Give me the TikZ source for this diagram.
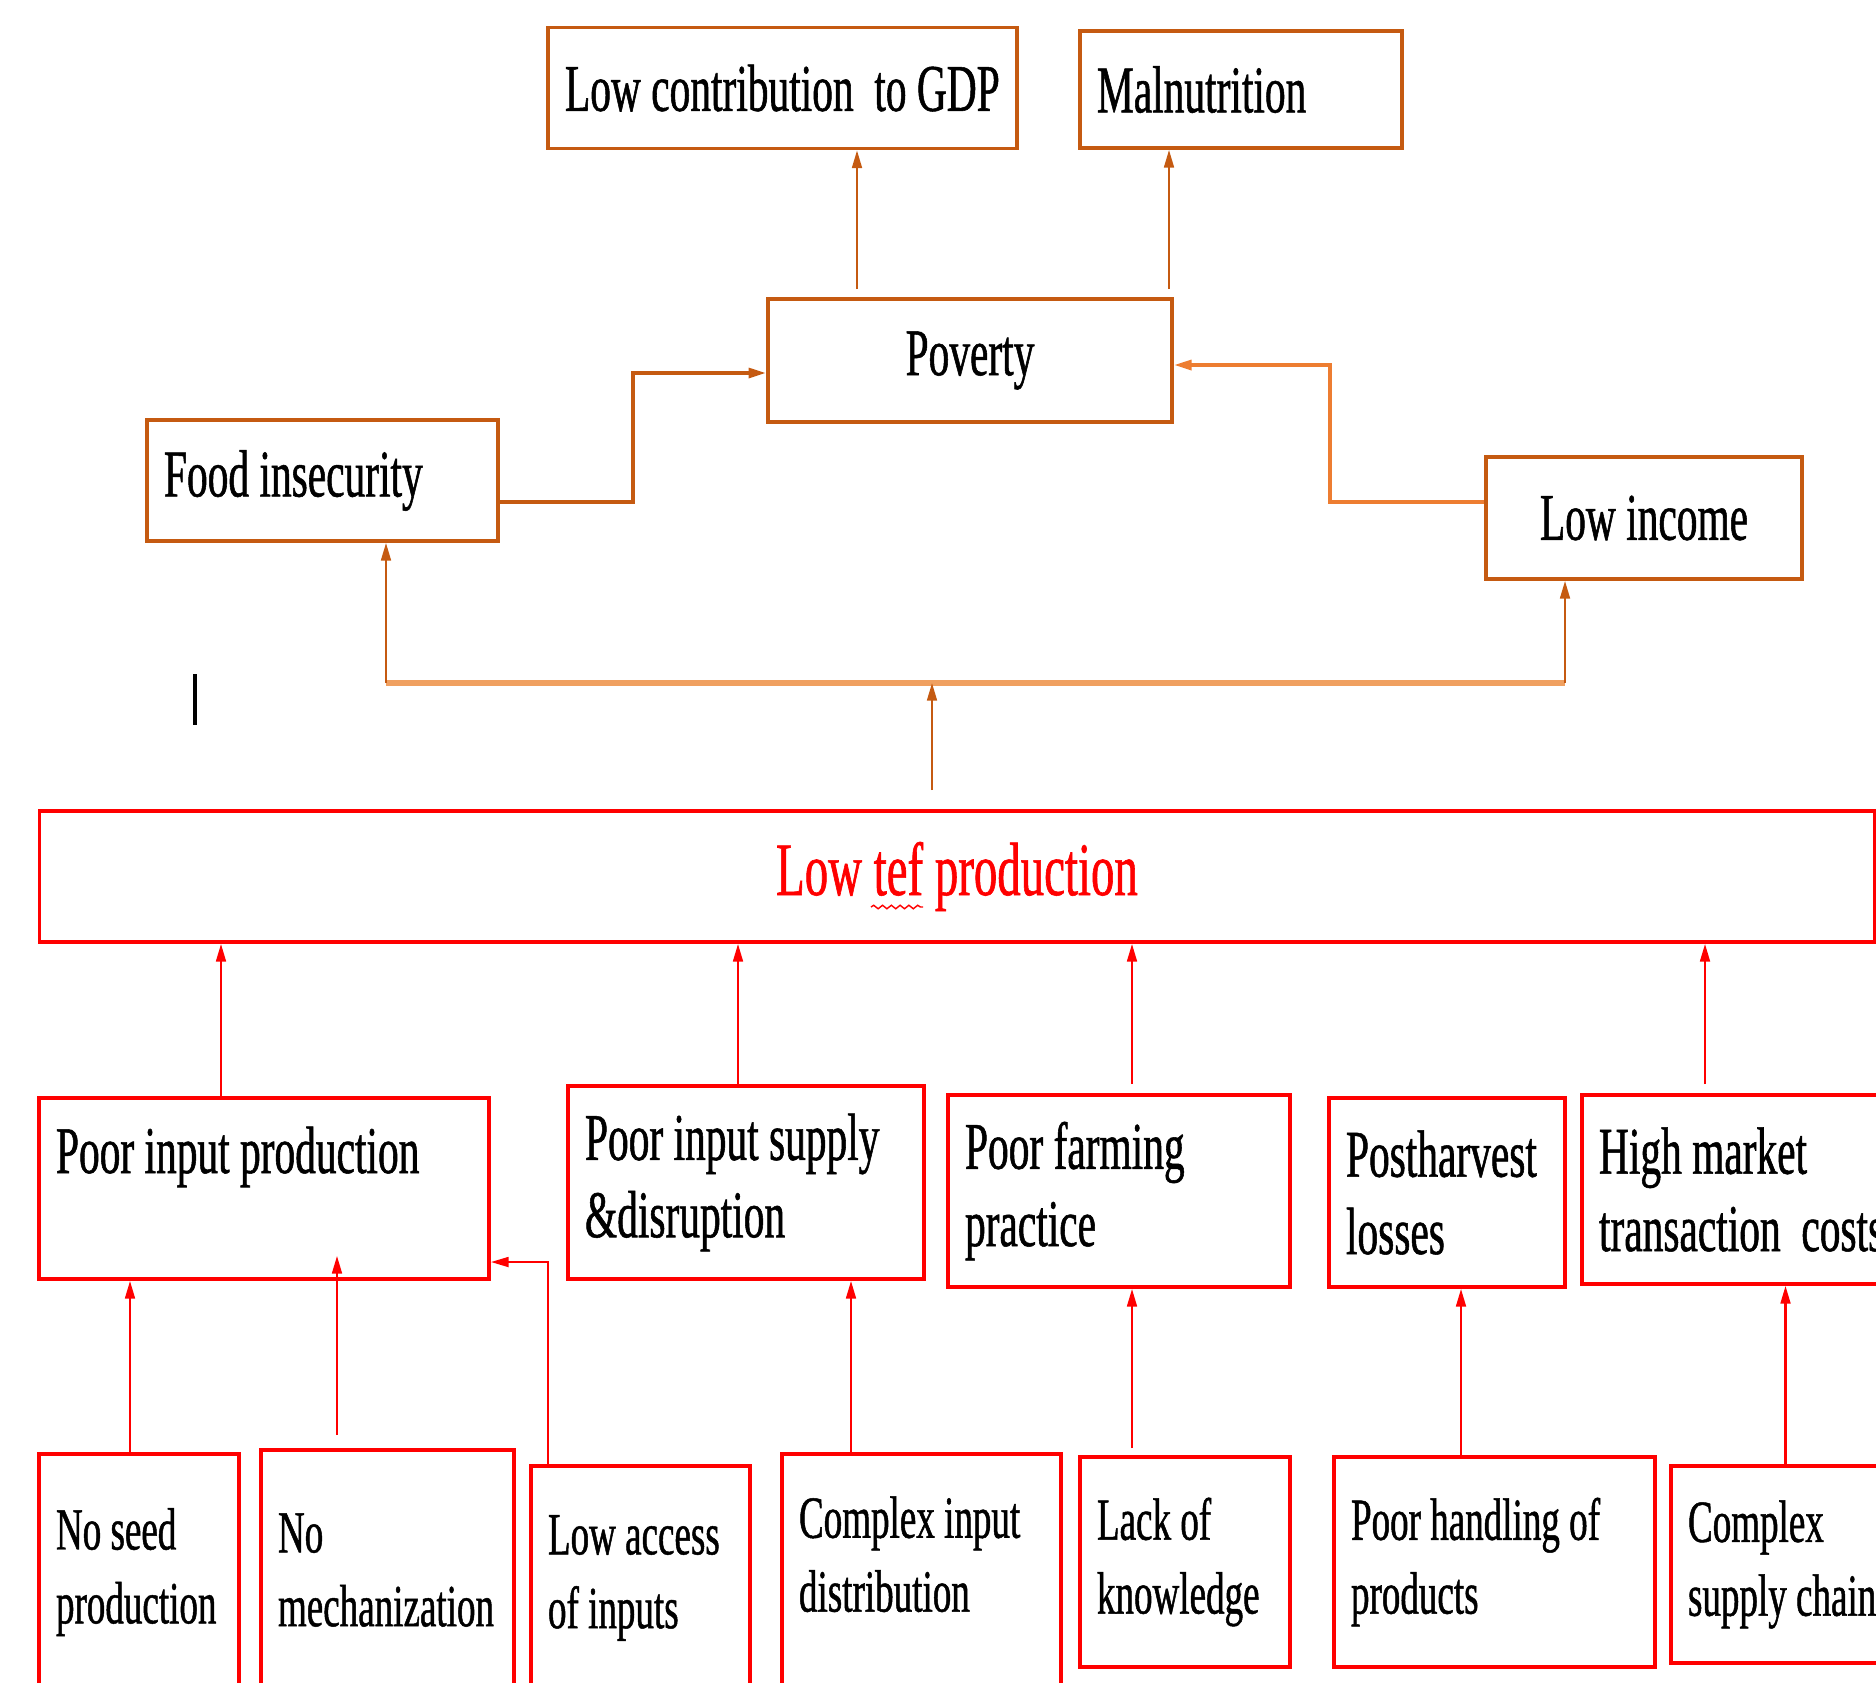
\documentclass[tikz,border=0pt]{standalone}
\usepackage{fontspec}
\setmainfont{Liberation Serif}[FakeStretch=0.62, FakeBold=0.8]
\usetikzlibrary{arrows.meta,decorations.pathmorphing}
\definecolor{brown1}{HTML}{C55A11}
\definecolor{orange1}{HTML}{ED7D31}
\definecolor{orange2}{HTML}{F0A060}
\hyphenpenalty=10000
\exhyphenpenalty=10000
\newcommand{\boxsize}{\fontsize{19}{22}\selectfont}
\newcommand{\leafsize}{\fontsize{17}{21}\selectfont}
\newcommand{\headsize}{\fontsize{21.5}{25}\selectfont}
\tikzstyle{effect} = [rectangle, draw=brown1, line width=1.1pt, align=flush left, inner xsep=0.17cm, inner ysep=2pt, font=\boxsize]
\tikzstyle{cause} = [rectangle, draw=red, line width=1.1pt, align=flush left, inner xsep=0.17cm, inner ysep=2pt, font=\boxsize]
\tikzstyle{leaf} = [cause, font=\leafsize]
\tikzstyle{arrow} = [-{Triangle[length=5pt,width=2.8pt]}, line width=0.6pt]

\begin{document}
\begin{tikzpicture}[node distance=3cm]
\useasboundingbox (0,0) rectangle (18.76,-16.82);

\node (low) [cause, text width=18.01cm, align=flush center, minimum height=1.31cm, font=\headsize, text=red] at (9.57,-8.765) {Low tef production};
\draw [red, decorate, decoration={snake, amplitude=0.5pt, segment length=2.5pt}] ([xshift=-0.86cm,yshift=-0.305cm]low.center) -- ([xshift=-0.34cm,yshift=-0.305cm]low.center);

% effects
\node (pov) [effect, above of=low, xshift=0.13cm, yshift=2.16cm, text width=3.70cm, align=flush center, minimum height=1.23cm] {Poverty};
\node (gdp) [effect, above of=pov, xshift=-1.875cm, yshift=-0.275cm, text width=4.35cm, minimum height=1.21cm] {\mbox{Low contribution\ \ to GDP}};
\node (maln) [effect, right of=gdp, xshift=1.585cm, yshift=-0.015cm, text width=2.88cm, minimum height=1.17cm] {Malnutrition};
\node (food) [effect, left of=pov, xshift=-3.475cm, yshift=-1.2cm, text width=3.17cm, minimum height=1.21cm] {Food insecurity};
\node (inc) [effect, right of=pov, xshift=3.74cm, yshift=-1.575cm, text width=2.82cm, align=flush center, minimum height=1.22cm] {Low income};

\coordinate (p1) at ([xshift=-1.13cm,yshift=0.08cm]pov.north);
\coordinate (p2) at ([xshift=1.99cm,yshift=0.08cm]pov.north);
\draw [arrow, brown1] (p1) -- (p1 |- gdp.south);
\draw [arrow, brown1] (p2) -- (p2 |- maln.south);

\coordinate (f1) at (6.33,-3.73);
\draw [arrow, brown1, line width=1pt] ([yshift=-0.215cm]food.east) -| (f1) -- (f1 -| pov.west);
\coordinate (i1) at (13.30,-3.65);
\draw [arrow, orange1, line width=1pt] ([yshift=0.16cm]inc.west) -| (i1) -- (i1 -| pov.east);

\coordinate (s1) at ([xshift=-0.25cm,yshift=0.19cm]low.north);
\coordinate (h1) at (3.86,-6.83);
\coordinate (h2) at (15.65,-6.83);
\draw [orange2, line width=1.5pt] (h1) -- (h2);
\draw [arrow, brown1] (h1) -- (h1 |- food.south);
\draw [arrow, brown1] (h2) -- (h2 |- inc.south);
\draw [arrow, brown1] (s1) -- (s1 |- h1);

\draw [line width=1pt] (1.95,-6.74) -- (1.95,-7.25);

% causes
\node (pis) [cause, below of=low, xshift=-2.11cm, yshift=-0.06cm, text width=3.22cm, minimum height=1.93cm] {Poor input supply\\\&disruption};
\node (pip) [cause, left of=pis, xshift=-1.82cm, yshift=-0.06cm, text width=4.16cm, minimum height=1.81cm] {Poor input production\\\mbox{}};
\node (pfp) [cause, right of=pis, xshift=0.73cm, yshift=-0.085cm, text width=3.08cm, minimum height=1.92cm] {Poor farming\\practice};
\node (phl) [cause, right of=pfp, xshift=0.28cm, yshift=-0.015cm, text width=2.02cm, minimum height=1.89cm] {Postharvest\\losses};
\node (hmt) [cause, right of=phl, xshift=-0.06cm, yshift=0.03cm, text width=2.84cm, minimum height=1.89cm] {High market\\\mbox{transaction\ \ costs}};

\coordinate (c1) at ([xshift=-0.43cm]pip.north);
\coordinate (c2) at ([xshift=-0.08cm]pis.north);
\coordinate (c3) at ([xshift=0.13cm,yshift=0.09cm]pfp.north);
\coordinate (c4) at ([xshift=-0.36cm,yshift=0.09cm]hmt.north);
\draw [arrow, red] (c1) -- (c1 |- low.south);
\draw [arrow, red] (c2) -- (c2 |- low.south);
\draw [arrow, red] (c3) -- (c3 |- low.south);
\draw [arrow, red] (c4) -- (c4 |- low.south);

% root causes
\node (nsp) [leaf, below of=pip, xshift=-1.25cm, yshift=-0.835cm, text width=1.66cm, minimum height=2.36cm] {No seed\\production};
\node (nme) [leaf, right of=nsp, xshift=-0.515cm, yshift=0.02cm, text width=2.19cm, minimum height=2.40cm] {No\\mechanization};
\node (lai) [leaf, right of=nme, xshift=-0.47cm, yshift=-0.08cm, text width=1.85cm, minimum height=2.24cm] {Low access\\of inputs};
\node (cid) [leaf, below of=pis, xshift=1.755cm, yshift=-0.895cm, text width=2.45cm, minimum height=2.36cm, text depth=1.1cm] {Complex input\\distribution};
\node (lok) [leaf, below of=pfp, xshift=0.66cm, yshift=-0.71cm, text width=1.76cm, minimum height=2.10cm] {Lack of\\knowledge};
\node (pho) [leaf, below of=phl, xshift=0.475cm, yshift=-0.695cm, text width=2.87cm, minimum height=2.10cm] {Poor handling of\\products};
\node (csc) [leaf, below of=hmt, xshift=0.445cm, yshift=-0.75cm, text width=1.95cm, minimum height=1.97cm] {Complex\\\mbox{supply chain}};

\coordinate (r1) at ([xshift=-0.09cm]nsp.north);
\coordinate (r2) at ([xshift=-0.505cm,yshift=0.13cm]nme.north);
\coordinate (r2e) at ([yshift=0.25cm]pip.south);
\coordinate (r4) at ([xshift=-0.705cm]cid.north);
\coordinate (r5) at ([xshift=-0.53cm,yshift=0.07cm]lok.north);
\coordinate (r6) at ([xshift=-0.335cm]pho.north);
\coordinate (r7) at (csc.north);
\draw [arrow, red] (r1) -- (r1 |- pip.south);
\draw [arrow, red] (r2) -- (r2 |- r2e);
\draw [arrow, red] ([xshift=-0.925cm]lai.north) |- ([yshift=-0.735cm]pip.east);
\draw [arrow, red] (r4) -- (r4 |- pis.south);
\draw [arrow, red] (r5) -- (r5 |- pfp.south);
\draw [arrow, red] (r6) -- (r6 |- phl.south);
\draw [arrow, red] (r7) -- (r7 |- hmt.south);

\end{tikzpicture}
\end{document}
